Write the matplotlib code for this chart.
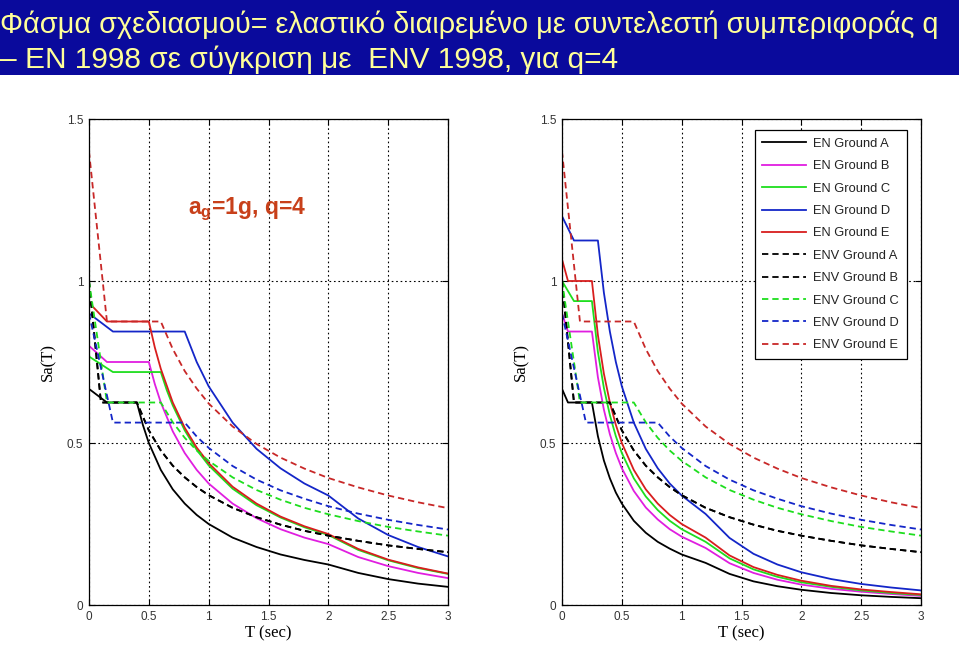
import matplotlib
matplotlib.use('Agg')
import matplotlib.pyplot as plt
from matplotlib.patches import Rectangle

plt.rcParams['mathtext.fontset'] = 'custom'
plt.rcParams['mathtext.bf'] = 'Liberation Sans:bold'
plt.rcParams['mathtext.rm'] = 'Liberation Sans'

# ---- data ----
# left panel: EN 1998 (solid), ag=1g, q=4
left_en_a_t = [0, 0.15, 0.4, 0.45, 0.5, 0.6, 0.7, 0.8, 0.9, 1.0, 1.2, 1.4, 1.6, 1.8, 2.0, 2.25, 2.5, 2.75, 3.0]
left_en_a_sa = [0.667, 0.625, 0.625, 0.556, 0.5, 0.417, 0.357, 0.313, 0.278, 0.25, 0.208, 0.179, 0.156, 0.139, 0.125, 0.099, 0.08, 0.066, 0.056]
left_en_b_t = [0, 0.15, 0.5, 0.55, 0.6, 0.7, 0.8, 0.9, 1.0, 1.2, 1.4, 1.6, 1.8, 2.0, 2.25, 2.5, 2.75, 3.0]
left_en_b_sa = [0.8, 0.75, 0.75, 0.682, 0.625, 0.536, 0.469, 0.417, 0.375, 0.313, 0.268, 0.234, 0.208, 0.188, 0.148, 0.12, 0.099, 0.083]
left_en_c_t = [0, 0.2, 0.6, 0.65, 0.7, 0.8, 0.9, 1.0, 1.2, 1.4, 1.6, 1.8, 2.0, 2.25, 2.5, 2.75, 3.0]
left_en_c_sa = [0.767, 0.719, 0.719, 0.663, 0.616, 0.539, 0.479, 0.431, 0.359, 0.308, 0.27, 0.24, 0.216, 0.17, 0.138, 0.114, 0.096]
left_en_d_t = [0, 0.2, 0.8, 0.9, 1.0, 1.2, 1.4, 1.6, 1.8, 2.0, 2.25, 2.5, 2.75, 3.0]
left_en_d_sa = [0.9, 0.844, 0.844, 0.75, 0.675, 0.563, 0.482, 0.422, 0.375, 0.338, 0.267, 0.216, 0.179, 0.15]
left_en_e_t = [0, 0.15, 0.5, 0.55, 0.6, 0.7, 0.8, 0.9, 1.0, 1.2, 1.4, 1.6, 1.8, 2.0, 2.25, 2.5, 2.75, 3.0]
left_en_e_sa = [0.933, 0.875, 0.875, 0.795, 0.729, 0.625, 0.547, 0.486, 0.438, 0.365, 0.313, 0.273, 0.243, 0.219, 0.173, 0.14, 0.116, 0.097]

# right panel: EN 1998 (solid)
right_en_t = [0, 0.05, 0.25, 0.3, 0.35, 0.4, 0.45, 0.5, 0.6, 0.7, 0.8, 0.9, 1.0, 1.2, 1.4, 1.6, 1.8, 2.0, 2.25, 2.5, 2.75, 3.0]
right_en_a_sa = [0.667, 0.625, 0.625, 0.521, 0.446, 0.391, 0.347, 0.313, 0.26, 0.223, 0.195, 0.174, 0.156, 0.13, 0.096, 0.073, 0.058, 0.047, 0.037, 0.03, 0.025, 0.021]
right_en_b_sa = [0.9, 0.844, 0.844, 0.703, 0.603, 0.527, 0.469, 0.422, 0.352, 0.301, 0.264, 0.234, 0.211, 0.176, 0.129, 0.099, 0.078, 0.063, 0.05, 0.041, 0.034, 0.028]
right_en_c_t = [0, 0.1, 0.25, 0.3, 0.35, 0.4, 0.45, 0.5, 0.6, 0.7, 0.8, 0.9, 1.0, 1.2, 1.4, 1.6, 1.8, 2.0, 2.25, 2.5, 2.75, 3.0]
right_en_c_sa = [1.0, 0.938, 0.938, 0.781, 0.67, 0.586, 0.521, 0.469, 0.391, 0.335, 0.293, 0.26, 0.234, 0.195, 0.144, 0.11, 0.087, 0.07, 0.056, 0.045, 0.037, 0.031]
right_en_d_t = [0, 0.1, 0.3, 0.35, 0.4, 0.45, 0.5, 0.6, 0.7, 0.8, 0.9, 1.0, 1.2, 1.4, 1.6, 1.8, 2.0, 2.25, 2.5, 2.75, 3.0]
right_en_d_sa = [1.2, 1.125, 1.125, 0.964, 0.844, 0.75, 0.675, 0.563, 0.482, 0.422, 0.375, 0.338, 0.281, 0.207, 0.158, 0.125, 0.101, 0.08, 0.065, 0.054, 0.045]
right_en_e_sa = [1.067, 1.0, 1.0, 0.833, 0.714, 0.625, 0.556, 0.5, 0.417, 0.357, 0.313, 0.278, 0.25, 0.208, 0.153, 0.117, 0.093, 0.075, 0.059, 0.048, 0.04, 0.033]

# ENV 1998 (dashed), same in both panels
env_a_t = [0, 0.1, 0.4, 0.5, 0.6, 0.7, 0.8, 0.9, 1.0, 1.2, 1.4, 1.6, 1.8, 2.0, 2.25, 2.5, 2.75, 3.0]
env_a_sa = [1.0, 0.625, 0.625, 0.539, 0.477, 0.43, 0.394, 0.364, 0.339, 0.3, 0.271, 0.248, 0.229, 0.214, 0.198, 0.184, 0.173, 0.163]
env_c_t = [0, 0.15, 0.6, 0.7, 0.8, 0.9, 1.0, 1.2, 1.4, 1.6, 1.8, 2.0, 2.25, 2.5, 2.75, 3.0]
env_c_sa = [1.0, 0.625, 0.625, 0.564, 0.516, 0.477, 0.445, 0.394, 0.355, 0.325, 0.3, 0.28, 0.259, 0.241, 0.227, 0.214]
env_d_t = [0, 0.2, 0.8, 0.9, 1.0, 1.2, 1.4, 1.6, 1.8, 2.0, 2.25, 2.5, 2.75, 3.0]
env_d_sa = [0.9, 0.563, 0.563, 0.52, 0.485, 0.429, 0.387, 0.354, 0.328, 0.305, 0.282, 0.263, 0.247, 0.233]
env_e_t = [0, 0.15, 0.6, 0.7, 0.8, 0.9, 1.0, 1.2, 1.4, 1.6, 1.8, 2.0, 2.25, 2.5, 2.75, 3.0]
env_e_sa = [1.4, 0.875, 0.875, 0.79, 0.722, 0.668, 0.622, 0.551, 0.497, 0.455, 0.421, 0.392, 0.363, 0.338, 0.317, 0.299]

labels = ['EN Ground A', 'EN Ground B', 'EN Ground C', 'EN Ground D', 'EN Ground E',
          'ENV Ground A', 'ENV Ground B', 'ENV Ground C', 'ENV Ground D', 'ENV Ground E']
colors = ['black', '#e01ee0', '#1ede1e', '#1426c8', '#d81e1e',
          'black', 'black', '#1ede1e', '#1426c8', '#c82828']

left_curves = [(left_en_a_t, left_en_a_sa), (left_en_b_t, left_en_b_sa), (left_en_c_t, left_en_c_sa),
               (left_en_d_t, left_en_d_sa), (left_en_e_t, left_en_e_sa)]
right_curves = [(right_en_t, right_en_a_sa), (right_en_t, right_en_b_sa), (right_en_c_t, right_en_c_sa),
                (right_en_d_t, right_en_d_sa), (right_en_t, right_en_e_sa)]
# ENV Ground B plots on top of ENV Ground A in the picture
env_curves = [(env_a_t, env_a_sa), (env_a_t, env_a_sa), (env_c_t, env_c_sa),
              (env_d_t, env_d_sa), (env_e_t, env_e_sa)]

fig = plt.figure(figsize=(9.59, 6.63), dpi=100)

# title bar
fig.patches.append(Rectangle((0, 1 - 75 / 663), 1, 75 / 663, transform=fig.transFigure,
                             facecolor='#0a0a9c', edgecolor='none', zorder=0))
tfont = dict(family=['Liberation Sans', 'DejaVu Sans'], color='#ffff99')
fig.text(0.0, 1 - 33 / 663, 'Φάσμα σχεδιασμού= ελαστικό διαιρεμένο με συντελεστή συμπεριφοράς q',
         va='baseline', ha='left', fontsize=20.8, **tfont)
fig.text(0.0, 1 - 68 / 663, '– EN 1998 σε σύγκριση με  ENV 1998, για q=4',
         va='baseline', ha='left', fontsize=21.5, **tfont)

ax_l = fig.add_axes([89 / 959, 1 - 605 / 663, 359 / 959, 486 / 663])
ax_r = fig.add_axes([562 / 959, 1 - 605 / 663, 359 / 959, 486 / 663])

handles = []
for ax, en in ((ax_l, left_curves), (ax_r, right_curves)):
    hs = []
    for (t, sa), c in zip(en, colors[:5]):
        h, = ax.plot(t, sa, color=c, lw=1.3)
        hs.append(h)
    for (t, sa), c in zip(env_curves, colors[5:]):
        h, = ax.plot(t, sa, color=c, lw=1.3, dashes=(3.5, 2.2))
        hs.append(h)
    handles = hs

    ax.set_xlim(0, 3)
    ax.set_ylim(0, 1.5)
    ax.set_xticks([0, 0.5, 1, 1.5, 2, 2.5, 3])
    ax.set_xticklabels(['0', '0.5', '1', '1.5', '2', '2.5', '3'])
    ax.set_yticks([0, 0.5, 1, 1.5])
    ax.set_yticklabels(['0', '0.5', '1', '1.5'])
    ax.grid(True, color='black', linestyle=(0, (1.5, 2.5)), lw=0.8)
    ax.tick_params(direction='in', length=4, width=0.8, top=True, right=True,
                   labelsize=8.5, labelcolor='#333333', pad=4)
    for lab in ax.get_xticklabels() + ax.get_yticklabels():
        lab.set_family(['Liberation Sans', 'DejaVu Sans'])
    for sp in ax.spines.values():
        sp.set_linewidth(0.9)
    ax.set_xlabel('T (sec)', family='Liberation Serif', fontsize=12, labelpad=2)
    ax.set_ylabel('Sa(T)', family='Liberation Serif', fontsize=12, labelpad=8)

ax_l.text(0.275, 0.805, r'$\mathbf{a_g}$' + '=1g, q=4', transform=ax_l.transAxes,
          color='#c8401a', fontsize=16.5, fontweight='bold', family=['Liberation Sans', 'DejaVu Sans'])

leg = ax_r.legend(handles, labels, loc='upper right', bbox_to_anchor=(0.961, 0.977),
                  borderaxespad=0, fancybox=False, edgecolor='black', framealpha=1,
                  prop={'family': 'Liberation Sans', 'size': 9.3}, labelspacing=0.8,
                  handlelength=3.4, handletextpad=0.55, borderpad=0.6)
leg.get_frame().set_linewidth(0.9)
for txt in leg.get_texts():
    txt.set_color('#222222')

plt.savefig('out.png', dpi=100)
